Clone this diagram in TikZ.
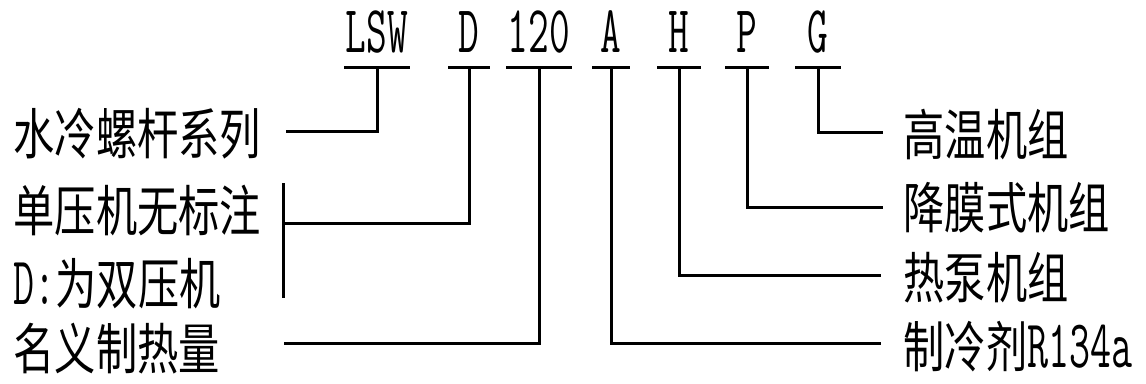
\documentclass[tikz,border=0pt]{standalone}
\usepackage{fontspec}
\usetikzlibrary{positioning}
\newfontfamily\cjk[FakeStretch=0.75]{Noto Sans CJK SC}
\newfontfamily\lat[FakeStretch=0.6]{Latin Modern Mono}
\newcommand\latin[1]{{\lat\fontsize{68}{68}\selectfont #1}}

\begin{document}
\begin{tikzpicture}[x=1pt, y=-1pt, line width=3pt,
  code/.style={font=\lat\fontsize{67}{67}\selectfont, anchor=base, inner sep=0pt},
  lbl/.style={font=\cjk\fontsize{55}{60}\selectfont, anchor=west, inner sep=0pt}]
\useasboundingbox (0,0) rectangle (1146,383);
% the model code, one bar under each part
\foreach \n/\t/\x/\w in {lsw/LSW/377/33, d/D/469/21, num/120/539/33, a/A/611/19, h/H/679/22, p/P/747/22, g/G/818/23} {
  \node[code] (\n) at (\x,52) {\t};
  \coordinate (\n-stem) at (\x,67);
  \draw (\x-\w,67) -- (\x+\w,67);}
% what each part means
\node[lbl] (series) at (12,134) {水冷螺杆系列};
\node[lbl] (single) at (12,210) {单压机无标注};
\node[lbl] (double) at (12,284) {\latin{D:}为双压机};
\node[lbl] (capacity) at (12,349) {名义制热量};
\node[lbl] (hightemp) at (902,135) {高温机组};
\node[lbl] (film) at (902,208) {降膜式机组};
\node[lbl] (pump) at (902,278) {热泵机组};
\node[lbl] (refrig) at (902,347) {制冷剂\latin{R134a}};
% leaders from the code down to the texts
\foreach \n/\x/\y in {lsw/286/131, num/284/343, a/881/343, h/881/275, p/883/207, g/883/132} {
  \coordinate (\n-end) at (\x,\y);
  \draw (\n-stem) |- (\n-end);}
\coordinate (brace-top) at (283,183);
\coordinate (brace-mid) at (283,223);
\coordinate (brace-bot) at (283,298);
\draw (brace-top) -- (brace-bot);
\draw (d-stem) |- (brace-mid);
\end{tikzpicture}
\end{document}
